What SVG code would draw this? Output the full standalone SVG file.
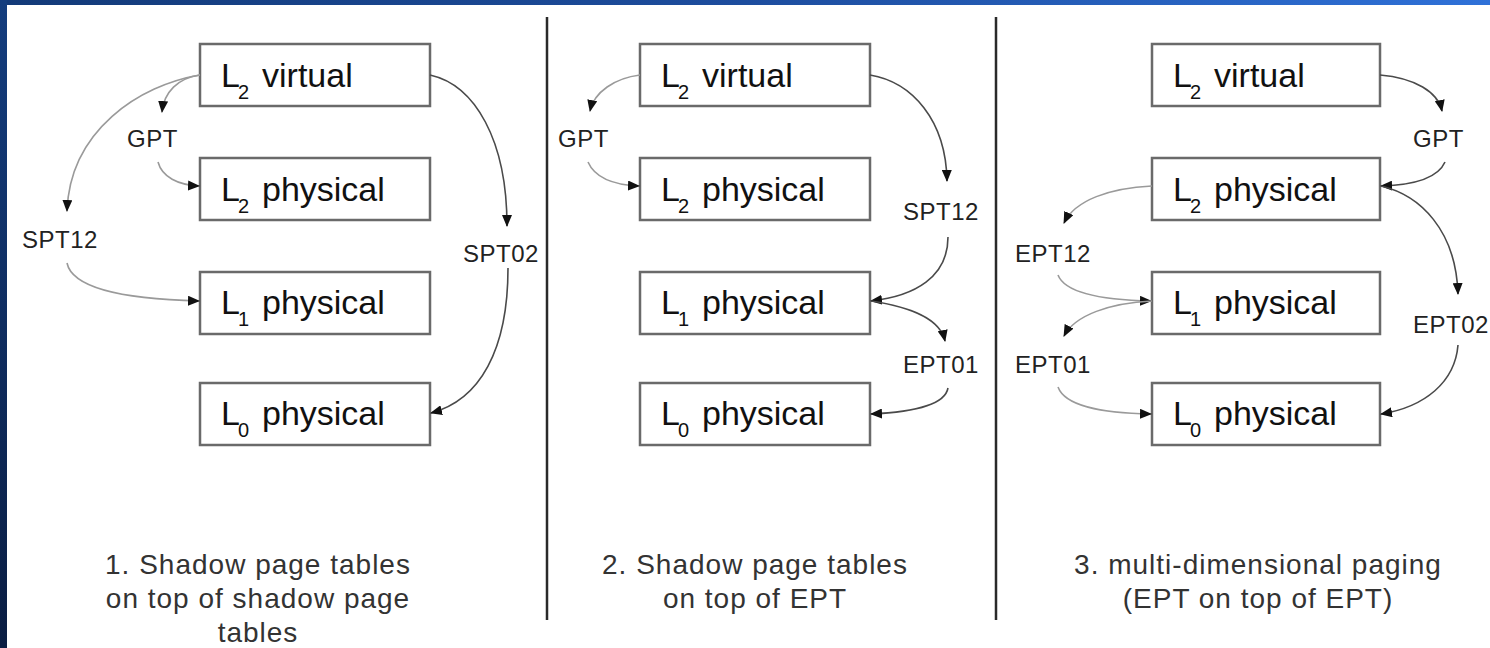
<svg xmlns="http://www.w3.org/2000/svg" width="1490" height="648" viewBox="0 0 1490 648">
<defs>
<linearGradient id="gTop" x1="0" y1="0" x2="1" y2="0">
<stop offset="0" stop-color="#133a78"/>
<stop offset="0.5" stop-color="#1d4d9e"/>
<stop offset="1" stop-color="#2f71d8"/>
</linearGradient>
<linearGradient id="gLeft" x1="0" y1="0" x2="0" y2="1">
<stop offset="0" stop-color="#143d7e"/>
<stop offset="1" stop-color="#0a1d42"/>
</linearGradient>
<marker id="ah" markerUnits="userSpaceOnUse" markerWidth="12" markerHeight="10" refX="11" refY="5" orient="auto">
<path d="M0,0 L12,5 L0,10 z" fill="#111"/>
</marker>
<style>
.box{fill:#fff;stroke:#6a6a6a;stroke-width:2.5}
.bt{font-family:"Liberation Sans",Arial,sans-serif;font-size:34px;fill:#111}
.sub{font-size:20px}
.lbl{font-family:"Liberation Sans",Arial,sans-serif;font-size:24px;fill:#222;letter-spacing:0.5px}
.cap{font-family:"Liberation Sans",Arial,sans-serif;font-size:28px;fill:#333;letter-spacing:1px;text-anchor:middle}
.lt{fill:none;stroke:#9a9a9a;stroke-width:1.6;marker-end:url(#ah)}
.dk{fill:none;stroke:#4a4a4a;stroke-width:1.6;marker-end:url(#ah)}
.div{stroke:#2a2a2a;stroke-width:2.5}
</style>
</defs>
<rect x="0" y="0" width="1490" height="648" fill="#fff"/>
<rect x="0" y="0" width="1490" height="5" fill="url(#gTop)"/>
<rect x="0" y="0" width="7" height="648" fill="url(#gLeft)"/>

<g id="dividers">
<line class="div" x1="547" y1="17" x2="547" y2="620"/>
<line class="div" x1="996" y1="17" x2="996" y2="620"/>
</g>

<!-- Panel 1 -->
<g id="p1-l2v"><rect class="box" x="200" y="44" width="230" height="62"/><text class="bt" x="221" y="87">L<tspan class="sub" x="238" y="99">2</tspan><tspan x="262" y="87">virtual</tspan></text></g>
<g id="p1-l2p"><rect class="box" x="200" y="158" width="230" height="62"/><text class="bt" x="221" y="201">L<tspan class="sub" x="238" y="213">2</tspan><tspan x="262" y="201">physical</tspan></text></g>
<g id="p1-l1p"><rect class="box" x="200" y="272" width="230" height="62"/><text class="bt" x="221" y="314">L<tspan class="sub" x="238" y="326">1</tspan><tspan x="262" y="314">physical</tspan></text></g>
<g id="p1-l0p"><rect class="box" x="200" y="383" width="230" height="62"/><text class="bt" x="221" y="425">L<tspan class="sub" x="238" y="437">0</tspan><tspan x="262" y="425">physical</tspan></text></g>

<!-- Panel 2 -->
<g id="p2-l2v"><rect class="box" x="640" y="44" width="230" height="62"/><text class="bt" x="661" y="87">L<tspan class="sub" x="678" y="99">2</tspan><tspan x="702" y="87">virtual</tspan></text></g>
<g id="p2-l2p"><rect class="box" x="640" y="158" width="230" height="62"/><text class="bt" x="661" y="201">L<tspan class="sub" x="678" y="213">2</tspan><tspan x="702" y="201">physical</tspan></text></g>
<g id="p2-l1p"><rect class="box" x="640" y="272" width="230" height="62"/><text class="bt" x="661" y="314">L<tspan class="sub" x="678" y="326">1</tspan><tspan x="702" y="314">physical</tspan></text></g>
<g id="p2-l0p"><rect class="box" x="640" y="383" width="230" height="62"/><text class="bt" x="661" y="425">L<tspan class="sub" x="678" y="437">0</tspan><tspan x="702" y="425">physical</tspan></text></g>

<!-- Panel 3 -->
<g id="p3-l2v"><rect class="box" x="1152" y="44" width="228" height="62"/><text class="bt" x="1173" y="87">L<tspan class="sub" x="1190" y="99">2</tspan><tspan x="1214" y="87">virtual</tspan></text></g>
<g id="p3-l2p"><rect class="box" x="1152" y="158" width="228" height="62"/><text class="bt" x="1173" y="201">L<tspan class="sub" x="1190" y="213">2</tspan><tspan x="1214" y="201">physical</tspan></text></g>
<g id="p3-l1p"><rect class="box" x="1152" y="272" width="228" height="62"/><text class="bt" x="1173" y="314">L<tspan class="sub" x="1190" y="326">1</tspan><tspan x="1214" y="314">physical</tspan></text></g>
<g id="p3-l0p"><rect class="box" x="1152" y="383" width="228" height="62"/><text class="bt" x="1173" y="425">L<tspan class="sub" x="1190" y="437">0</tspan><tspan x="1214" y="425">physical</tspan></text></g>

<g id="connectors">
<!-- panel 1 -->
<path class="lt" d="M200,75 C178,78 164,92 162,112"/>
<path class="lt" d="M158,162 C162,177 178,185 199,186"/>
<path class="lt" d="M200,75 C140,85 70,130 67,211"/>
<path class="lt" d="M67,263 C72,287 120,299 199,301"/>
<path class="dk" d="M430,75 C475,85 507,140 507,226"/>
<path class="dk" d="M508,268 C508,350 480,400 431,413"/>
<!-- panel 2 -->
<path class="lt" d="M640,75 C615,78 594,92 590,111"/>
<path class="lt" d="M588,162 C595,178 615,185 639,186"/>
<path class="dk" d="M870,75 C912,82 946,120 947,181"/>
<path class="dk" d="M948,237 C948,277 915,296 871,301"/>
<path class="dk" d="M871,301 C910,307 940,318 945,341"/>
<path class="dk" d="M948,388 C945,405 915,412 871,414"/>
<!-- panel 3 -->
<path class="dk" d="M1380,75 C1415,78 1438,92 1442,111"/>
<path class="dk" d="M1445,162 C1438,178 1415,185 1381,186"/>
<path class="dk" d="M1381,186 C1420,195 1456,230 1458,294"/>
<path class="dk" d="M1458,345 C1455,382 1425,407 1381,414"/>
<path class="lt" d="M1152,186 C1110,188 1075,200 1064,223"/>
<path class="lt" d="M1058,275 C1065,293 1100,300 1151,301"/>
<path class="lt" d="M1152,301 C1110,303 1075,315 1064,336"/>
<path class="lt" d="M1058,387 C1065,406 1100,413 1151,414"/>
</g>

<g id="labels">
<text class="lbl" x="127" y="147">GPT</text>
<text class="lbl" x="22" y="248">SPT12</text>
<text class="lbl" x="463" y="262">SPT02</text>
<text class="lbl" x="558" y="147">GPT</text>
<text class="lbl" x="903" y="220">SPT12</text>
<text class="lbl" x="903" y="373">EPT01</text>
<text class="lbl" x="1413" y="147">GPT</text>
<text class="lbl" x="1015" y="262">EPT12</text>
<text class="lbl" x="1413" y="333">EPT02</text>
<text class="lbl" x="1015" y="373">EPT01</text>
</g>

<g id="captions">
<text class="cap" x="258" y="574">1. Shadow page tables</text>
<text class="cap" x="258" y="608">on top of shadow page</text>
<text class="cap" x="258" y="642">tables</text>
<text class="cap" x="755" y="574">2. Shadow page tables</text>
<text class="cap" x="755" y="608">on top of EPT</text>
<text class="cap" x="1258" y="574">3. multi-dimensional paging</text>
<text class="cap" x="1258" y="608">(EPT on top of EPT)</text>
</g>
</svg>
